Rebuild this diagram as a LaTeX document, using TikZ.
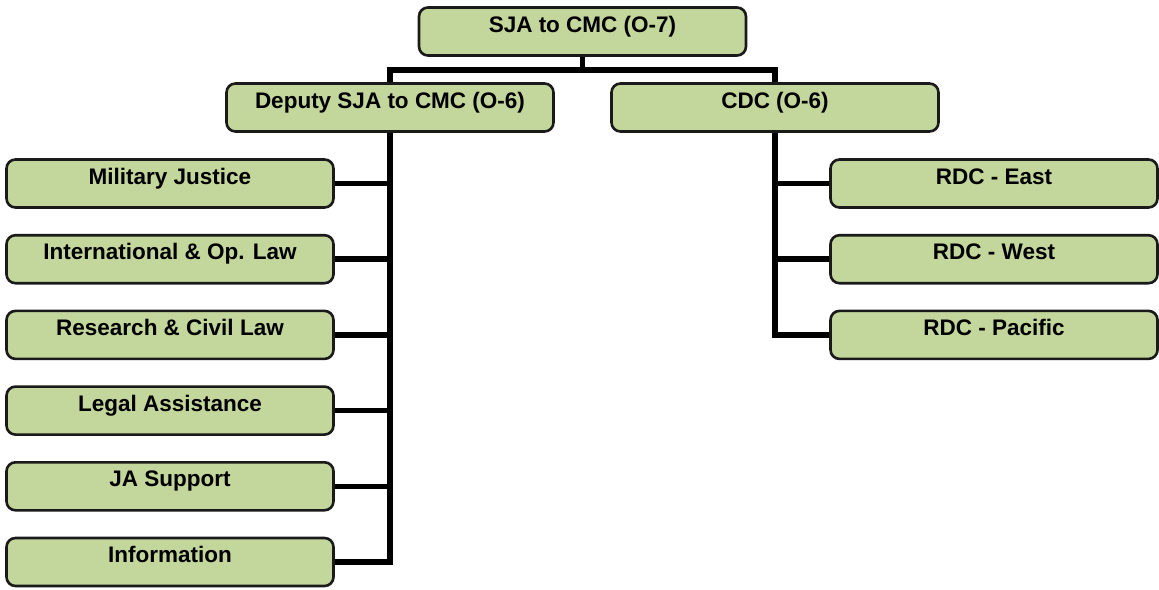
\documentclass[tikz,border=0pt]{standalone}
\usepackage{fontspec}
\setmainfont{Liberation Sans}
\usetikzlibrary{backgrounds}
\definecolor{boxgreen}{HTML}{C3D69B}
\definecolor{boxline}{HTML}{1A1A1A}
\begin{document}
\begin{tikzpicture}[x=1pt,y=-1pt,
  orgbox/.style={draw=boxline, line width=2.6pt, fill=boxgreen, rounded corners=9pt,
    minimum width=327pt, minimum height=48pt, inner sep=0pt,
    text height=17pt, text depth=16pt,
    font=\fontsize{22.5}{26}\selectfont\bfseries},
  conn/.style={draw=black, line width=5.5pt, line join=miter}]
\useasboundingbox (0,0) rectangle (1159,589);
\coordinate (bar) at (0,70);
% nodes
\node[orgbox] (top) at (582.5,31.5) {SJA to CMC (O-7)};
\node[orgbox] (dep) at (390,107.5) {Deputy SJA to CMC (O-6)};
\node[orgbox] (cdc) at (775,107.5) {CDC (O-6)};
\node[orgbox] (mj)   at (170,183.5) {Military Justice};
\node[orgbox] (intl) at (170,259.2) {International \& Op. Law};
\node[orgbox] (rcl)  at (170,334.9) {Research \& Civil Law};
\node[orgbox] (la)   at (170,410.6) {Legal Assistance};
\node[orgbox] (jas)  at (170,486.3) {JA Support};
\node[orgbox] (info) at (170,562.0) {Information};
\node[orgbox] (east) at (994,183.5) {RDC - East};
\node[orgbox] (west) at (994,259.2) {RDC - West};
\node[orgbox] (pac)  at (994,334.9) {RDC - Pacific};
% connectors
\begin{scope}[on background layer]
\draw[conn] (top.south) -- (top.south |- bar);
\draw[conn] (dep.north) -- (dep.north |- bar) -| (cdc.north);
\draw[conn] (dep.south) |- (info.east);
\foreach \n in {mj,intl,rcl,la,jas}
  \draw[conn] (\n.east) -- (\n.east -| dep.south);
\draw[conn] (cdc.south) |- (pac.west);
\foreach \n in {east,west}
  \draw[conn] (\n.west) -- (\n.west -| cdc.south);
\end{scope}
\end{tikzpicture}
\end{document}
